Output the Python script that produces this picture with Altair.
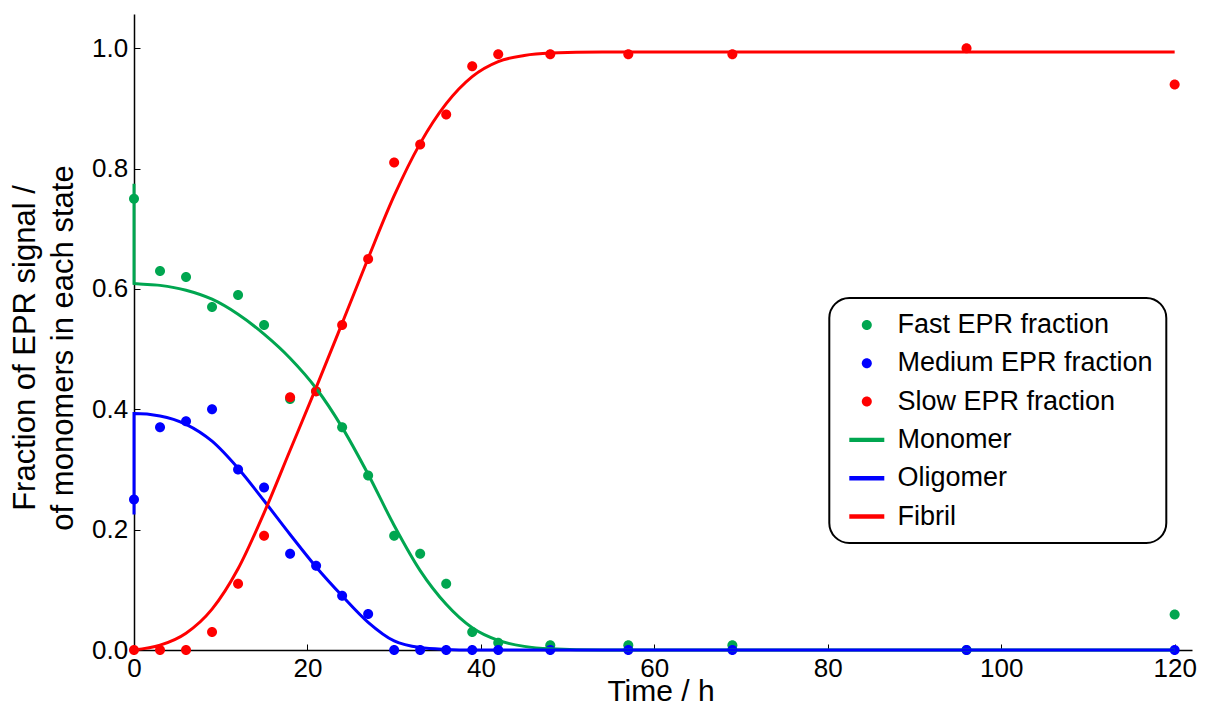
import altair as alt
import pandas as pd

# ---- measured data (Time / h) ----
times = [0, 3, 6, 9, 12, 15, 18, 21, 24, 27, 30, 33, 36, 39, 42, 48, 57, 69, 96, 120]
fast = [0.75, 0.63, 0.62, 0.57, 0.59, 0.54, 0.417, 0.43, 0.37, 0.29, 0.19, 0.16, 0.11, 0.03,
        0.012, 0.008, 0.008, 0.008, 0.0, 0.059]
medium = [0.25, 0.37, 0.38, 0.40, 0.30, 0.27, 0.16, 0.14, 0.09, 0.06, 0.0, 0.0, 0.0, 0.0,
          0.0, 0.0, 0.0, 0.0, 0.0, 0.0]
slow = [0.0, 0.0, 0.0, 0.03, 0.11, 0.19, 0.42, 0.43, 0.54, 0.65, 0.81, 0.84, 0.89, 0.97,
        0.99, 0.99, 0.99, 0.99, 1.0, 0.94]

# ---- model curves ----
curve_t = [0, 0, 3, 6, 9, 12, 15, 18, 21, 24, 27, 30, 33, 36, 39, 42, 45, 48, 54, 60, 90, 120]
monomer = [0.775, 0.609, 0.606, 0.598, 0.583, 0.558, 0.525, 0.485, 0.435, 0.37, 0.292, 0.207,
           0.132, 0.076, 0.037, 0.016, 0.006, 0.002, 0.0, 0.0, 0.0, 0.0]
oligomer = [0.225, 0.393, 0.389, 0.375, 0.347, 0.302, 0.248, 0.192, 0.138, 0.09, 0.046, 0.015,
            0.004, 0.001, 0.0, 0.0, 0.0, 0.0, 0.0, 0.0, 0.0, 0.0]
fibril = [0.0, 0.0, 0.008, 0.028, 0.068, 0.135, 0.228, 0.332, 0.436, 0.543, 0.651, 0.755, 0.842,
          0.908, 0.953, 0.978, 0.988, 0.992, 0.994, 0.994, 0.994, 0.994]

point_names = ["Fast EPR fraction", "Medium EPR fraction", "Slow EPR fraction"]
curve_names = ["Monomer", "Oligomer", "Fibril"]
palette = ["#00a650", "#0000ff", "#ff0000"]

x_ticks = [0, 20, 40, 60, 80, 100, 120]
y_ticks = [0.0, 0.2, 0.4, 0.6, 0.8, 1.0]

DOT = "M0.5,0A0.5,0.5,0,1,1,-0.5,0A0.5,0.5,0,1,1,0.5,0Z"
BAR = "M-1.75,-0.22L1.75,-0.22L1.75,0.22L-1.75,0.22Z"

rows = []
for name, vals in zip(point_names, [fast, medium, slow]):
    for t, v in zip(times, vals):
        rows.append({"t": t, "v": v, "series": name})
pts = pd.DataFrame(rows)

crows = []
for name, vals in zip(curve_names, [monomer, oligomer, fibril]):
    for i, (t, v) in enumerate(zip(curve_t, vals)):
        crows.append({"t": t, "v": v, "series": name, "idx": i})
cur = pd.DataFrame(crows)

W, H = 1058, 636
all_names = point_names + curve_names
color_scale = alt.Scale(domain=all_names, range=palette + palette)
shape_scale = alt.Scale(domain=all_names, range=[DOT, DOT, DOT, BAR, BAR, BAR])
xs = alt.Scale(domain=[0, 122], nice=False, zero=False)
ys = alt.Scale(domain=[0, 1.057], nice=False, zero=False)

leg = alt.Legend(title=None, orient="none", legendX=695.3, legendY=284)

points = alt.Chart(pts).mark_point(filled=True, size=400, opacity=1, strokeWidth=0).encode(
    x=alt.X("t:Q", scale=xs, axis=alt.Axis(
        values=x_ticks, ticks=False, tickSize=0, labelPadding=5, labelFontSize=26,
        labelFlush=False, title="Time / h", titleX=526.5, titleY=50,
        titleBaseline="alphabetic", titleAlign="center", titleFontSize=30,
        titleFontWeight="normal", domainColor="black", domainWidth=1.5, grid=False)),
    y=alt.Y("v:Q", scale=ys, axis=alt.Axis(
        values=y_ticks, format=".1f", ticks=False, tickSize=0, labelPadding=6.3,
        labelFontSize=26, labelFlush=False,
        title=["Fraction of EPR signal /", "of monomers in each state"],
        titleX=-100, titleY=333.5, titleAngle=270, titleAlign="center",
        titleBaseline="alphabetic", titleLineHeight=38, titleFontSize=31,
        titleFontWeight="normal", domainColor="black", domainWidth=1.5, grid=False)),
    color=alt.Color("series:N", scale=color_scale, legend=leg, sort=all_names),
    shape=alt.Shape("series:N", scale=shape_scale, legend=leg, sort=all_names),
)

lines = alt.Chart(cur).mark_line(strokeWidth=3, interpolate="monotone").encode(
    x=alt.X("t:Q", scale=xs, axis=alt.Axis(
        orient="top", offset=-H, values=x_ticks, labels=False, domain=False, ticks=True,
        tickSize=6, tickColor="black", tickWidth=1, title=None, grid=False)),
    y=alt.Y("v:Q", scale=ys, axis=alt.Axis(
        orient="right", offset=-W, values=y_ticks, labels=False, domain=False, ticks=True,
        tickSize=6, tickColor="black", tickWidth=1, title=None, grid=False)),
    color=alt.Color("series:N", scale=color_scale, legend=None),
    order=alt.Order("idx:Q"),
)

chart = alt.layer(points, lines).resolve_axis(x="independent", y="independent").properties(
    width=W, height=H,
    autosize=alt.AutoSizeParams(type="none"),
    padding={"left": 126, "top": 6, "right": 5, "bottom": 53},
).configure(font="Liberation Sans").configure_view(stroke=None).configure_axis(
    labelFont="Liberation Sans", titleFont="Liberation Sans",
    labelColor="black", titleColor="black",
).configure_legend(
    labelFont="Liberation Sans", labelFontSize=27, labelColor="black", labelLimit=400,
    symbolSize=400, symbolStrokeWidth=0, symbolOffset=10.5, labelOffset=17.2,
    rowPadding=10.3, padding=13.5, strokeColor="black", strokeWidth=2, cornerRadius=20,
    fillColor="white", symbolOpacity=1,
)

chart.save("out.html", embed_options={"renderer": "svg", "actions": False})
